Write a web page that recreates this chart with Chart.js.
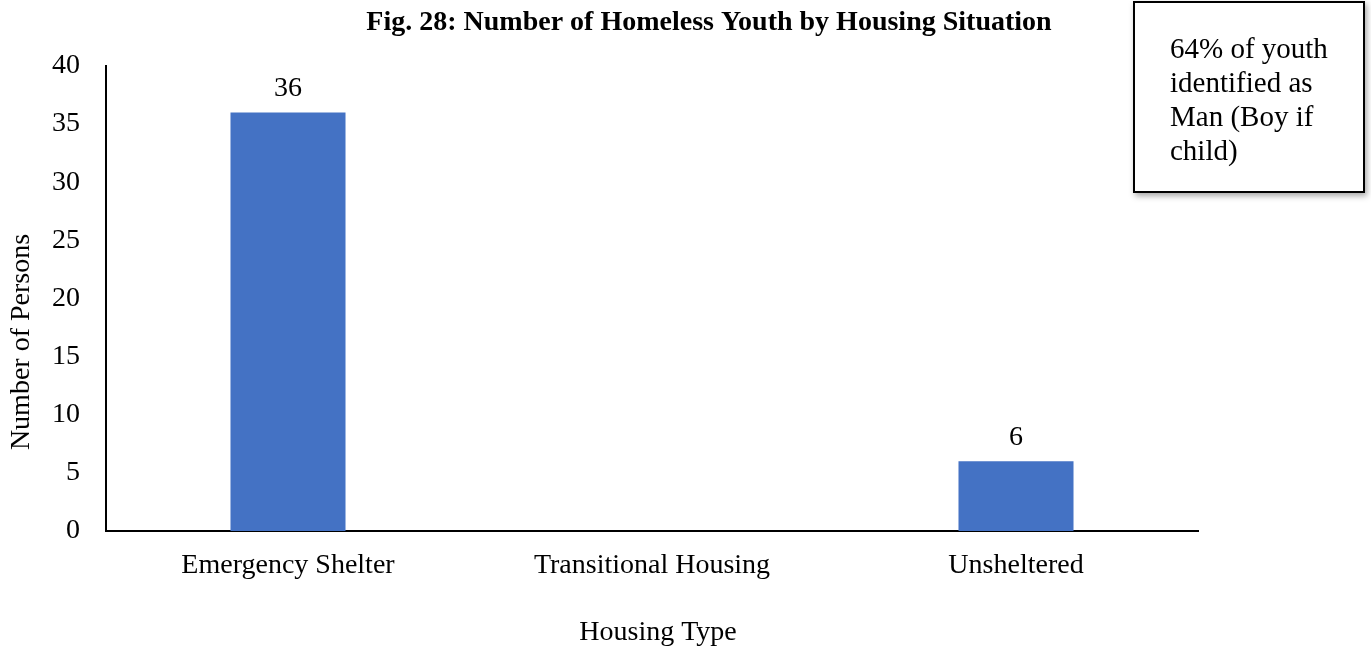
<!DOCTYPE html>
<html>
<head>
<meta charset="utf-8">
<script src="https://cdn.jsdelivr.net/npm/chart.js@4/dist/chart.umd.min.js"></script>
<style>
  body { margin: 0; background: #fff; }
  #wrap { position: relative; width: 1371px; height: 649px; }
  #nota {
    position: absolute; left: 1133px; top: 1px; width: 228px; height: 188px;
    border: 2px solid #000; background: #fff; box-sizing: content-box;
    box-shadow: 2px 3px 6px rgba(0,0,0,0.35);
    font-family: "Liberation Serif", serif; font-size: 29px; line-height: 34px;
    color: #000; padding: 0;
  }
  #nota div { position: absolute; left: 35px; top: 28px; width: 185px; }
</style>
</head>
<body>
<div id="wrap">
  <canvas id="graficoJovens" width="1371" height="649"></canvas>
  <div id="nota"><div>64% of youth identified as Man (Boy if child)</div></div>
</div>
<script>
const categorias = ['Emergency Shelter', 'Transitional Housing', 'Unsheltered'];
const pessoas = [36, 0, 6];
const titulo = 'Fig. 28: Number of Homeless Youth by Housing Situation';
const tituloY = 'Number of Persons';
const tituloX = 'Housing Type';

const fonte = '"Liberation Serif", "Times New Roman", serif';

// rotulos em cima das barras e titulos
const textos = {
  id: 'textos',
  afterDatasetsDraw(chart) {
    const ctx = chart.ctx;
    ctx.save();
    ctx.fillStyle = '#000';
    ctx.font = '28px ' + fonte;
    ctx.textAlign = 'center';
    ctx.textBaseline = 'bottom';
    chart.getDatasetMeta(0).data.forEach((barra, i) => {
      if (pessoas[i] > 0) {
        ctx.fillText(String(pessoas[i]), barra.x, barra.y - 10);
      }
    });

    ctx.textBaseline = 'middle';
    ctx.font = 'bold 28px ' + fonte;
    ctx.fillText(titulo, 709, 23);

    ctx.font = '28px ' + fonte;
    ctx.fillText(tituloX, 658, 633);

    ctx.translate(22, 342);
    ctx.rotate(-Math.PI / 2);
    ctx.fillText(tituloY, 0, 0);
    ctx.restore();
  }
};

const graficoJovens = new Chart(document.getElementById('graficoJovens'), {
  type: 'bar',
  data: {
    labels: categorias,
    datasets: [{
      label: 'Persons',
      data: pessoas,
      backgroundColor: '#4472C4',
      categoryPercentage: 1,
      barPercentage: 0.316
    }]
  },
  options: {
    responsive: false,
    animation: false,
    layout: { padding: { left: 0, right: 173, top: 66, bottom: 0 } },
    plugins: {
      legend: { display: false },
      tooltip: { enabled: false }
    },
    scales: {
      x: {
        grid: { display: false, drawTicks: false },
        border: { display: true, color: '#000', width: 2 },
        ticks: { color: '#000', font: { family: fonte, size: 28 }, padding: 18, maxRotation: 0 },
        afterFit: (escala) => { escala.height = 118; }
      },
      y: {
        min: 0,
        max: 40,
        grid: { display: false, drawTicks: false },
        border: { display: true, color: '#000', width: 2 },
        ticks: { stepSize: 5, color: '#000', font: { family: fonte, size: 28 }, padding: 26 },
        afterFit: (escala) => { escala.width = 106; }
      }
    }
  },
  plugins: [textos]
});
</script>
</body>
</html>
